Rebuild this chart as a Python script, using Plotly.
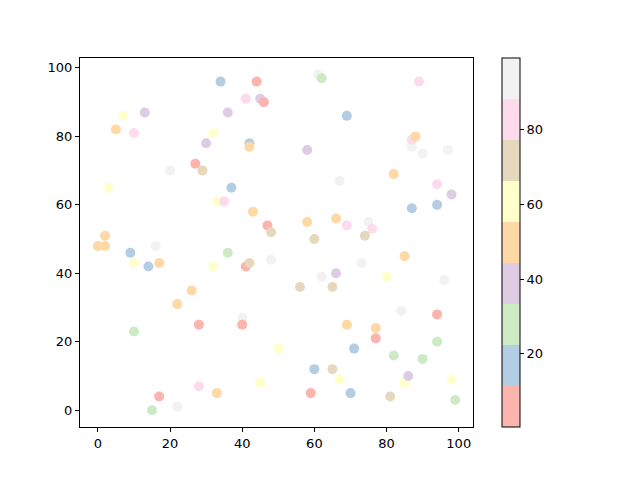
import plotly.graph_objects as go

# point positions
x = [0, 2, 2, 3, 5, 7, 9, 10, 10, 10, 13, 14, 15, 16, 17, 17, 20, 22, 22, 26,
     27, 28, 28, 29, 30, 32, 32, 33, 33, 34, 35, 36, 36, 37, 40, 40, 41, 41, 42, 42,
     42, 43, 44, 45, 45, 46, 47, 48, 48, 50, 56, 58, 58, 59, 60, 60, 61, 62, 62, 65,
     65, 66, 66, 67, 67, 69, 69, 69, 70, 71, 73, 74, 75, 76, 77, 77, 80, 81, 82, 82,
     84, 85, 85, 86, 87, 87, 88, 87, 89, 90, 90, 94, 94, 94, 94, 96, 97, 98, 98, 99]
y = [48, 48, 51, 65, 82, 86, 46, 81, 43, 23, 87, 42, 0, 48, 43, 4, 70, 1, 31, 35,
     72, 25, 7, 70, 78, 81, 42, 61, 5, 96, 61, 87, 46, 65, 27, 25, 91, 42, 78, 77,
     43, 58, 96, 91, 8, 90, 54, 52, 44, 18, 36, 76, 55, 5, 50, 12, 98, 97, 39, 12,
     36, 56, 40, 67, 9, 86, 54, 25, 5, 18, 43, 51, 55, 53, 21, 24, 39, 4, 16, 69,
     29, 45, 8, 10, 77, 79, 80, 59, 96, 75, 15, 66, 60, 28, 20, 38, 76, 63, 9, 3]
# colour value of each point (estimated from its colour band)
c = [50, 50, 50, 61, 50, 61, 17, 83, 61, 28, 39, 17, 28, 94, 50, 6, 94, 94, 50, 50,
     6, 6, 83, 72, 39, 61, 61, 61, 50, 17, 83, 39, 28, 17, 94, 6, 83, 6, 17, 50,
     72, 50, 6, 39, 61, 6, 6, 72, 94, 61, 72, 39, 50, 6, 72, 17, 94, 28, 94, 72,
     72, 50, 39, 94, 61, 17, 83, 50, 17, 17, 94, 72, 94, 83, 6, 50, 61, 72, 28, 50,
     94, 50, 61, 39, 94, 83, 50, 17, 83, 94, 28, 83, 17, 6, 28, 94, 94, 39, 61, 28]

cbar_ticks = [20, 40, 60, 80]
pastel1 = ["#fbb4ae", "#b3cde3", "#ccebc5", "#decbe4", "#fed9a6",
           "#ffffcc", "#e5d8bd", "#fddaec", "#f2f2f2"]

n = len(pastel1)
scale = []
for i, col in enumerate(pastel1):
    scale.append([i / n, col])
    scale.append([(i + 1) / n, col])

fig = go.Figure()
fig.add_trace(go.Scatter(
    x=x, y=y, mode="markers",
    marker=dict(size=10, color=c, colorscale=scale, cmin=0.4, cmax=99.2,
                line=dict(width=0),
                colorbar=dict(thickness=18, len=1, lenmode="fraction",
                              x=1.0738, xanchor="left", xpad=0,
                              y=0.5, yanchor="middle", ypad=0,
                              outlinewidth=1, outlinecolor="black",
                              tickvals=cbar_ticks, ticks="outside",
                              ticklen=4, tickcolor="black")),
    showlegend=False,
))

axis = dict(showgrid=False, zeroline=False, showline=True, linecolor="black",
            linewidth=1, mirror=True, ticks="outside", ticklen=4,
            tickcolor="black")
fig.update_xaxes(range=[-4.95, 103.95], tickvals=[0, 20, 40, 60, 80, 100], **axis)
fig.update_yaxes(range=[-4.9, 102.9], tickvals=[0, 20, 40, 60, 80, 100], **axis)

# page body adds an 8px offset, so margins are shifted to compensate
fig.update_layout(
    width=640, height=480,
    margin=dict(l=72, r=175, t=50, b=61),
    plot_bgcolor="white", paper_bgcolor="white",
    font=dict(family="DejaVu Sans", size=13, color="black"),
)

fig.write_html("out.html")
